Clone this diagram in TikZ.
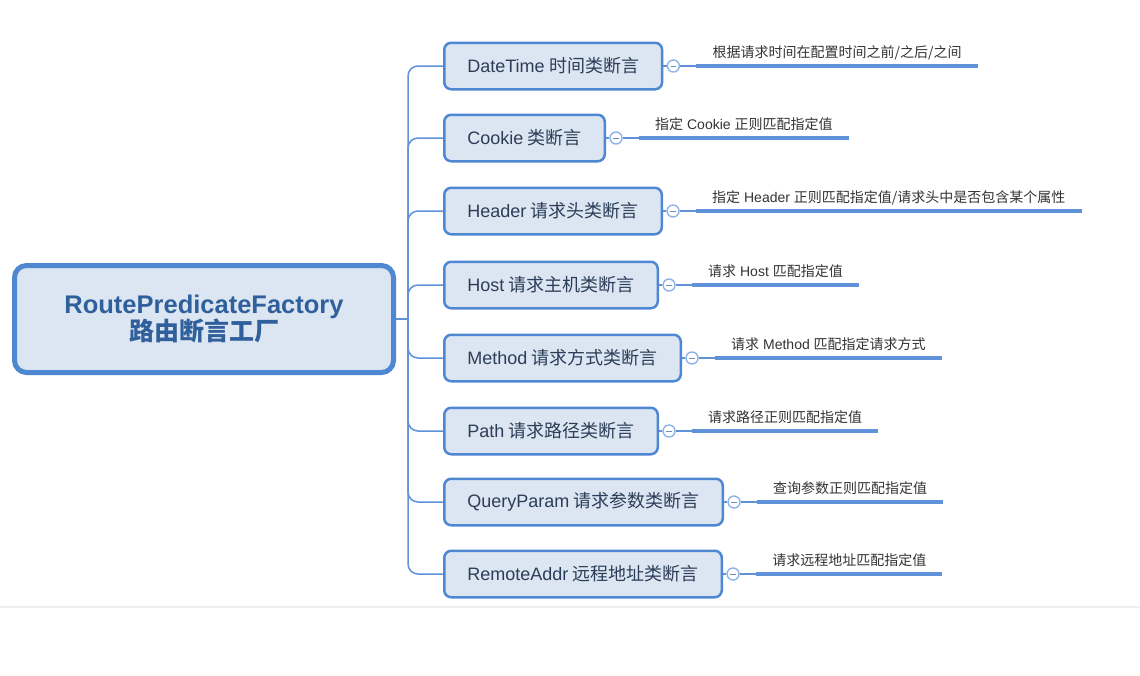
\documentclass[tikz,border=0pt]{standalone}
\usepackage{fontspec}
\setmainfont{Liberation Sans}
\newfontfamily\cjk{Noto Sans CJK SC}
\newcommand\zh[1]{{\cjk #1}}
\newcommand\gap{\hspace{4.5pt}}
\newcommand\rootfont{\fontsize{25.5}{27.5}\selectfont\bfseries\setlength{\lineskiplimit}{-50pt}}
\definecolor{bord}{HTML}{4E87D2}
\definecolor{fillc}{HTML}{DCE6F2}
\definecolor{connc}{HTML}{5F92D8}
\definecolor{circc}{HTML}{8DB3E8}
\definecolor{rootc}{HTML}{30609C}
\definecolor{brc}{HTML}{2B3D58}
\definecolor{leafc}{HTML}{333333}
\definecolor{sepc}{HTML}{EFEFEF}
\tikzset{
  rootbox/.style={draw=bord, line width=5pt, fill=fillc, rounded corners=12pt,
    minimum width=379pt, minimum height=107pt, align=center, text=rootc,
    font=\rootfont},
  branch/.style={draw=bord, line width=2.5pt, fill=fillc, rounded corners=7pt,
    minimum height=46.5pt, inner xsep=23pt, anchor=west, text=brc,
    font=\fontsize{18}{20}\selectfont},
  toggle/.style={circle, draw=circc, line width=1.4pt, fill=white,
    minimum size=12pt, inner sep=0pt},
  leaf/.style={anchor=south west, inner xsep=16pt, inner ysep=0pt,
    text depth=8pt, text=leafc, font=\fontsize{14}{16}\selectfont},
  link/.style={draw=connc, line width=1.5pt},
  under/.style={draw=connc, line width=4pt},
  minus/.style={draw=circc!80!black, line width=0.9pt}
}
\begin{document}
\begin{tikzpicture}[x=1pt,y=-1pt]
\fill[white] (0,0) rectangle (1140,675);
\useasboundingbox (0,0) rectangle (1140,675);
\draw[sepc, line width=2pt] (0,607) -- (1140,607);

\node[rootbox] (root) at (204,319) {RoutePredicateFactory\\{\fontsize{25}{27.5}\selectfont\zh{路由断言工厂}}};
\coordinate (hub) at (408,319);

\node[branch] (b1) at (443,66)  {DateTime\gap\zh{时间类断言}};
\node[branch] (b2) at (443,138) {Cookie\gap\zh{类断言}};
\node[branch] (b3) at (443,211) {Header\gap\zh{请求头类断言}};
\node[branch] (b4) at (443,285) {Host\gap\zh{请求主机类断言}};
\node[branch] (b5) at (443,358) {Method\gap\zh{请求方式类断言}};
\node[branch] (b6) at (443,431) {Path\gap\zh{请求路径类断言}};
\node[branch] (b7) at (443,502) {QueryParam\gap\zh{请求参数类断言}};
\node[branch] (b8) at (443,574) {RemoteAddr\gap\zh{远程地址类断言}};

\draw[link] (root.east) -- (hub);
\foreach \i in {1,...,8} {
  \draw[link, rounded corners=10pt] (hub) |- (b\i.west);
  \node[toggle] (t\i) at ([xshift=10pt]b\i.east) {};
  \draw[link] (b\i.east) -- (t\i.west);
  \draw[minus] ([xshift=-2.8pt]t\i.center) -- ([xshift=2.8pt]t\i.center);
}

\node[leaf] (l1) at ([xshift=23pt]t1.center) {\zh{根据请求时间在配置时间之前/之后/之间}};
\node[leaf] (l2) at ([xshift=23pt]t2.center) {\zh{指定} Cookie \zh{正则匹配指定值}};
\node[leaf] (l3) at ([xshift=23pt]t3.center) {\zh{指定} Header \zh{正则匹配指定值/请求头中是否包含某个属性}};
\node[leaf] (l4) at ([xshift=23pt]t4.center) {\zh{请求} Host \zh{匹配指定值}};
\node[leaf] (l5) at ([xshift=23pt]t5.center) {\zh{请求} Method \zh{匹配指定请求方式}};
\node[leaf] (l6) at ([xshift=23pt]t6.center) {\zh{请求路径正则匹配指定值}};
\node[leaf] (l7) at ([xshift=23pt]t7.center) {\zh{查询参数正则匹配指定值}};
\node[leaf] (l8) at ([xshift=23pt]t8.center) {\zh{请求远程地址匹配指定值}};

\foreach \i in {1,...,8} {
  \draw[link] (t\i.east) -- (l\i.south west);
  \draw[under] (l\i.south west) -- (l\i.south east);
}
\end{tikzpicture}
\end{document}
